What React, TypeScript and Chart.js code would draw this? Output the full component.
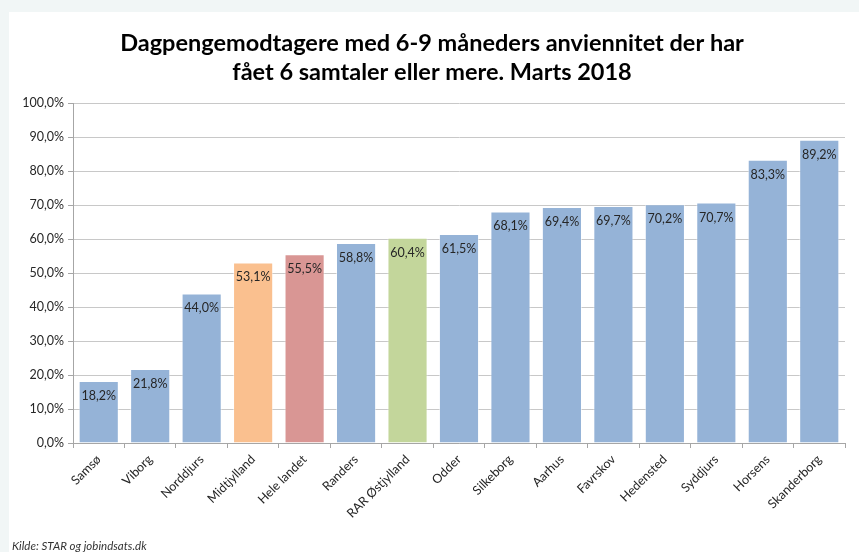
import React, { useEffect, useRef } from "react";
import { Chart, registerables } from "chart.js";

Chart.register(...registerables);

const categories = [
  "Samsø", "Viborg", "Norddjurs", "Midtjylland", "Hele landet", "Randers",
  "RAR Østjylland", "Odder", "Silkeborg", "Aarhus", "Favrskov", "Hedensted",
  "Syddjurs", "Horsens", "Skanderborg",
];
const values = [18.2, 21.8, 44.0, 53.1, 55.5, 58.8, 60.4, 61.5, 68.1, 69.4, 69.7, 70.2, 70.7, 83.3, 89.2];
const barColors = [
  "#95b3d7", "#95b3d7", "#95b3d7", "#fac08f", "#d99694", "#95b3d7",
  "#c3d69b", "#95b3d7", "#95b3d7", "#95b3d7", "#95b3d7", "#95b3d7",
  "#95b3d7", "#95b3d7", "#95b3d7",
];
const titleLines = [
  "Dagpengemodtagere med 6-9 måneders anviennitet der har",
  "fået 6 samtaler eller mere. Marts 2018",
];
const sourceText = "Kilde: STAR og jobindsats.dk";

const FONT = "Lato, 'Liberation Sans', sans-serif";
const fmt = (v: number) => v.toFixed(1).replace(".", ",") + "%";

export default function App() {
  const ref = useRef<HTMLCanvasElement | null>(null);
  useEffect(() => {
    if (!ref.current) return;
    const extras = {
      id: "extras",
      afterDatasetsDraw(chart: any) {
        const ctx = chart.ctx;
        const meta = chart.getDatasetMeta(0);
        ctx.save();
        ctx.fillStyle = "#262626";
        ctx.font = `12.5px ${FONT}`;
        ctx.textAlign = "center";
        ctx.textBaseline = "middle";
        meta.data.forEach((bar: any, i: number) => {
          ctx.fillText(fmt(values[i]), bar.x, bar.y + 15);
        });
        ctx.restore();
      },
      afterDraw(chart: any) {
        const ctx = chart.ctx;
        ctx.save();
        ctx.fillStyle = "#000";
        ctx.font = `bold 23.5px ${FONT}`;
        ctx.textAlign = "center";
        ctx.textBaseline = "middle";
        ctx.fillText(titleLines[0], 423, 31);
        ctx.fillText(titleLines[1], 423, 60);
        ctx.font = `italic 11.5px ${FONT}`;
        ctx.textAlign = "left";
        ctx.fillStyle = "#333";
        ctx.fillText(sourceText, 3, 534);
        ctx.restore();
      },
    };
    const chart = new Chart(ref.current, {
      type: "bar",
      data: {
        labels: categories,
        datasets: [
          {
            data: values,
            backgroundColor: barColors,
            borderColor: "rgba(255,255,255,0.5)",
            borderWidth: 1,
            barPercentage: 0.78,
            categoryPercentage: 1,
          },
        ],
      },
      options: {
        animation: false,
        responsive: false,
        layout: { padding: { left: 0, top: 91, right: 14, bottom: 0 } },
        plugins: { legend: { display: false }, tooltip: { enabled: false }, title: { display: false } },
        scales: {
          x: {
            grid: { drawOnChartArea: false, drawTicks: true, tickLength: 5, color: "#a6a6a6", offset: true },
            border: { color: "#a6a6a6" },
            ticks: {
              maxRotation: 45,
              minRotation: 45,
              autoSkip: false,
              color: "#262626",
              font: { family: FONT, size: 12.5 },
              padding: 4,
            },
            afterFit(scale: any) {
              scale.height = 109;
            },
          },
          y: {
            min: 0,
            max: 100,
            ticks: {
              stepSize: 10,
              color: "#262626",
              font: { family: FONT, size: 12.5 },
              callback: (v: any) => fmt(Number(v)),
              padding: 4,
            },
            grid: { color: "#c8c8c8", tickLength: 5, tickColor: "#a6a6a6" },
            border: { color: "#a6a6a6" },
            afterFit(scale: any) {
              scale.width = 64;
            },
          },
        },
      },
      plugins: [extras],
    });
    return () => chart.destroy();
  }, []);
  return (
    <div style={{ position: "absolute", left: 0, top: 0, width: 859, height: 552, background: "#f1f6f6", overflow: "hidden" }}>
      <div style={{ position: "absolute", left: 9, top: 12, width: 850, height: 540, background: "#ffffff" }}>
        <canvas ref={ref} width={850} height={540} style={{ display: "block" }} />
      </div>
    </div>
  );
}
